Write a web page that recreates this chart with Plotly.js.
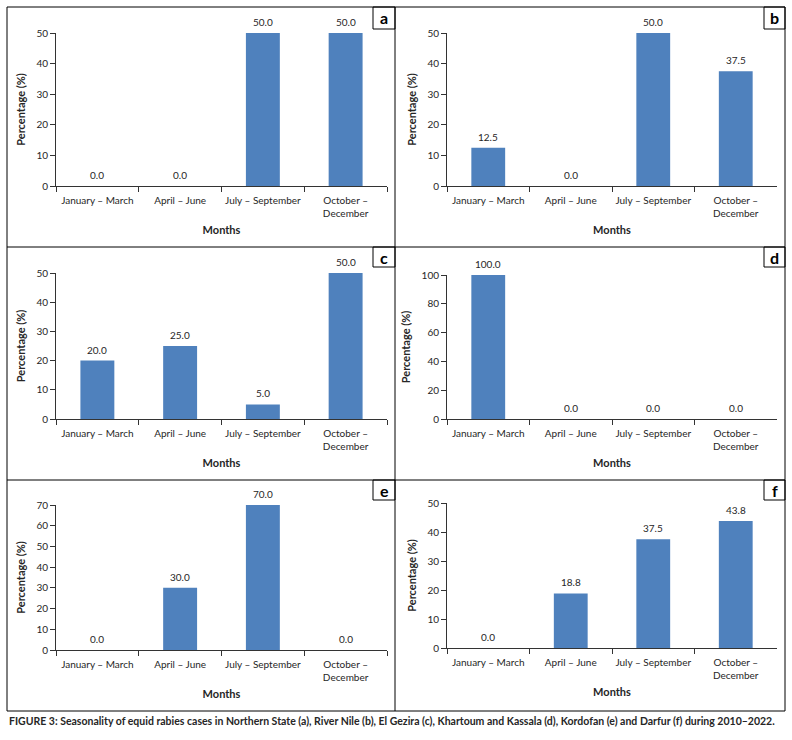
<!DOCTYPE html>
<html>
<head>
<meta charset="utf-8">
<script src="https://cdn.plot.ly/plotly-3.0.1.min.js"></script>
<style>html,body{margin:0;padding:0;background:#fff;}</style>
</head>
<body>
<div id="chart" style="width:792px;height:740px;"></div>
<script>
// Data
const categories = ["January – March", "April – June", "July – September", "October – December"];
const tickLabels = ["January – March", "April – June", "July – September", "October –<br>December"];
const panelLetters = ["a", "b", "c", "d", "e", "f"];
const northernState = [0.0, 0.0, 50.0, 50.0];      // a
const riverNile = [12.5, 0.0, 50.0, 37.5];         // b
const elGezira = [20.0, 25.0, 5.0, 50.0];          // c
const khartoumKassala = [100.0, 0.0, 0.0, 0.0];    // d
const kordofan = [0.0, 30.0, 70.0, 0.0];           // e
const darfur = [0.0, 18.8, 37.5, 43.8];            // f
const yMax = [50, 50, 50, 100, 70, 50];
const yDtick = [10, 10, 10, 20, 10, 10];
const caption = "FIGURE 3: Seasonality of equid rabies cases in Northern State (a), River Nile (b), El Gezira (c), Khartoum and Kassala (d), Kordofan (e) and Darfur (f) during 2010–2022.";

const series = [northernState, riverNile, elGezira, khartoumKassala, kordofan, darfur];

const W = 792, H = 740;
const px = v => v / W;
const py = v => 1 - v / H;

// plot areas in pixels: [x0, x1, yTop, yBottom]
const areas = [
  [56, 387, 33, 186],
  [447, 777, 33, 186],
  [56, 387, 273, 419],
  [447, 777, 275, 419],
  [56, 387, 505, 650],
  [447, 777, 503, 648]
];
// letter boxes [x0, x1, y0, y1]
const boxes = [
  [373, 395, 7, 29],
  [764, 785, 7, 29],
  [373, 395, 247, 267],
  [764, 785, 247, 267],
  [373, 395, 480, 500],
  [764, 785, 480, 500]
];

const FONT = "Lato, 'Open Sans', sans-serif";
const TXT = "#262626";
const BAR = "#4F81BD";

const data = [];
const layout = {
  width: W, height: H,
  margin: {l: 0, r: 0, t: 0, b: 0},
  paper_bgcolor: "#fff", plot_bgcolor: "#fff",
  showlegend: false,
  font: {family: FONT, color: TXT, size: 10},
  bargap: 0.59,
  shapes: [], annotations: []
};

series.forEach((vals, i) => {
  const k = i === 0 ? "" : String(i + 1);
  data.push({
    type: "bar",
    x: categories,
    y: vals,
    xaxis: "x" + k, yaxis: "y" + k,
    marker: {color: BAR},
    cliponaxis: false,
    hoverinfo: "x+y"
  });
  vals.forEach((v, j) => {
    layout.annotations.push({
      xref: "x" + k, yref: "y" + k,
      x: categories[j], y: v,
      xanchor: "center", yanchor: "bottom", yshift: 3,
      showarrow: false, text: v.toFixed(1),
      font: {family: FONT, size: 10, color: TXT}
    });
  });
  const a = areas[i];
  layout["xaxis" + k] = {
    domain: [px(a[0]), px(a[1])],
    anchor: "y" + k,
    type: "category",
    categoryarray: categories,
    tickvals: categories,
    ticktext: tickLabels,
    tickson: "boundaries",
    tickangle: 0,
    ticklabelstandoff: 5,
    ticks: "outside", ticklen: 5, tickcolor: "#333", tickwidth: 1,
    showline: true, linecolor: "#333", linewidth: 1,
    showgrid: false, zeroline: false,
    tickfont: {family: FONT, size: 10, color: TXT},
    title: {text: "Months", font: {family: FONT, size: 11, color: TXT, weight: "bold"}, standoff: 8},
    fixedrange: true
  };
  layout["yaxis" + k] = {
    domain: [py(a[3]), py(a[2])],
    anchor: "x" + k,
    range: [0, yMax[i]],
    dtick: yDtick[i], tick0: 0,
    ticks: "outside", ticklen: 5, tickcolor: "#333", tickwidth: 1,
    showline: true, linecolor: "#333", linewidth: 1,
    showgrid: false, zeroline: false,
    tickfont: {family: FONT, size: 10, color: TXT},
    title: {text: "Percentage (%)", font: {family: FONT, size: 11, color: TXT, weight: "bold"}, standoff: 8},
    fixedrange: true
  };
  const b = boxes[i];
  layout.shapes.push({type: "rect", xref: "paper", yref: "paper",
    x0: px(b[0]), x1: px(b[1]), y0: py(b[3]), y1: py(b[2]),
    line: {color: "#000", width: 1}, fillcolor: "rgba(0,0,0,0)"});
  layout.annotations.push({xref: "paper", yref: "paper",
    x: px((b[0] + b[1]) / 2), y: py((b[2] + b[3]) / 2),
    xanchor: "center", yanchor: "middle", showarrow: false,
    text: "<b>" + panelLetters[i] + "</b>",
    font: {family: FONT, size: 16, color: "#000"}});
});

// outer frame and dividers
layout.shapes.push({type: "rect", xref: "paper", yref: "paper",
  x0: px(7), x1: px(785), y0: py(711), y1: py(7), line: {color: "#000", width: 1}});
layout.shapes.push({type: "line", xref: "paper", yref: "paper",
  x0: px(395), x1: px(395), y0: py(711), y1: py(7), line: {color: "#000", width: 1}});
layout.shapes.push({type: "line", xref: "paper", yref: "paper",
  x0: px(7), x1: px(785), y0: py(247), y1: py(247), line: {color: "#000", width: 1}});
layout.shapes.push({type: "line", xref: "paper", yref: "paper",
  x0: px(7), x1: px(785), y0: py(480), y1: py(480), line: {color: "#000", width: 1}});

layout.annotations.push({xref: "paper", yref: "paper",
  x: px(7), y: py(721), xanchor: "left", yanchor: "middle", showarrow: false,
  text: "<b>" + caption + "</b>",
  font: {family: FONT, size: 10.5, color: TXT}});

Plotly.newPlot("chart", data, layout, {displayModeBar: false, staticPlot: true});
</script>
</body>
</html>
